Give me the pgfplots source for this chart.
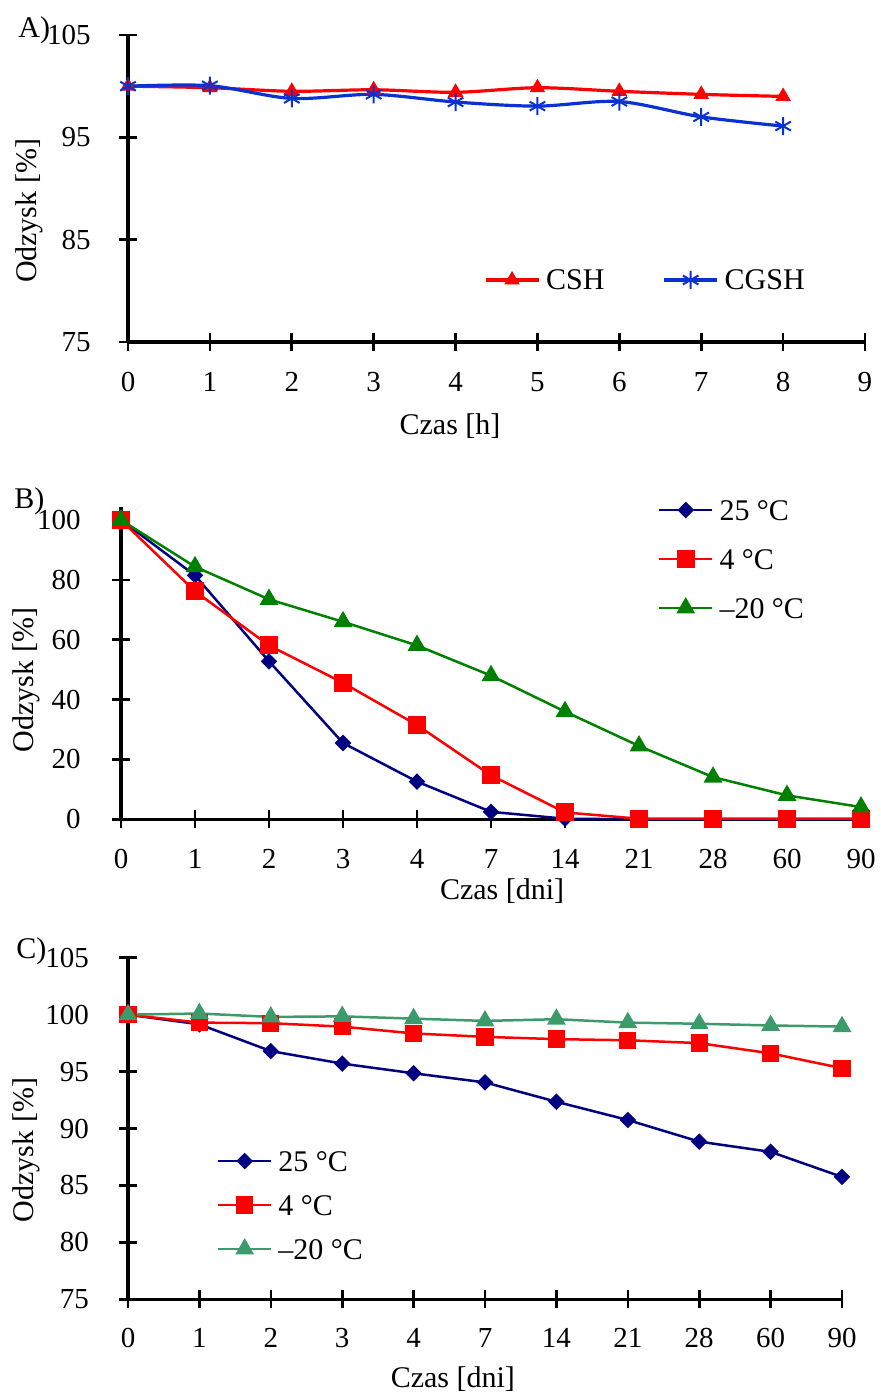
\documentclass[border=0pt]{standalone}
\usepackage{pgfplots}
\pgfplotsset{compat=1.18}
\usepackage{fontspec}
\setmainfont{Liberation Serif}
\definecolor{cred}{RGB}{255,0,0}
\definecolor{cblueA}{RGB}{10,50,210}
\definecolor{cnavy}{RGB}{0,0,128}
\definecolor{cgreenB}{RGB}{0,128,0}
\definecolor{cgreenC}{RGB}{60,155,106}

\pgfplotsset{
  base/.style={
    scale only axis,
    axis x line=bottom, axis y line=left,
    axis line style={-, line width=1.8pt, black},
    tick align=center,
    major tick length=9pt,
    major tick style={line width=1.3pt, black},
    /pgf/number format/assume math mode=true,
    tick label style={font=\fontsize{14.5}{16}\selectfont, inner sep=0pt},
    yticklabel style={anchor=east},
    legend style={draw=none, fill=none, font=\fontsize{15}{17}\selectfont,
      inner sep=0pt, outer sep=0pt,
      nodes={inner sep=0pt, text height=10pt, text depth=0pt}},
    legend cell align=left,
    legend image code/.code={\draw[mark repeat=2,mark phase=2] plot coordinates {(0pt,0pt) (13.25pt,0pt) (26.5pt,0pt)};},
    clip=false,
  },
}

\begin{document}
\begin{tikzpicture}
\useasboundingbox (0,0) rectangle (440pt,-696.5pt);
\node[anchor=base west, font=\fontsize{15}{17}\selectfont, inner sep=0pt] at (9pt,-18.5pt) {A)};
\node[anchor=base west, font=\fontsize{15}{17}\selectfont, inner sep=0pt] at (7pt,-254pt) {B)};
\node[anchor=base west, font=\fontsize{15}{17}\selectfont, inner sep=0pt] at (8pt,-479pt) {C)};

% ---------------- Panel A
\begin{axis}[base, at={(64pt,-171pt)}, anchor=south west,
  width=368.5pt, height=153.5pt,
  xmin=0, xmax=9, ymin=75, ymax=105,
  xtick={0,1,...,9}, ytick={75,85,95,105},
  xticklabel style={anchor=base, yshift=-20pt},
  yticklabel style={xshift=-14pt},
  xlabel={Czas [h]}, ylabel={Odzysk [\%]},
  every axis x label/.style={at={(axis description cs:0.437,-0.2997)}, anchor=base, font=\fontsize{15}{17}\selectfont},
  every axis y label/.style={at={(axis description cs:-0.1235,0.427)}, rotate=90, anchor=base, font=\fontsize{15}{17}\selectfont},
  legend columns=2,
  legend style={at={(axis description cs:0.483,0.202)}, anchor=west,
    /tikz/every odd column/.append style={column sep=3pt},
    /tikz/every even column/.append style={column sep=29pt}},
]
\addplot[cred, line width=1.6pt, smooth, tension=0.5, mark=triangle*, mark size=4pt, mark options={solid, fill=cred, line width=0.5pt}]
  coordinates {(0,100) (1,99.85) (2,99.5) (3,99.65) (4,99.4) (5,99.85) (6,99.5) (7,99.2) (8,99.0)};
\addlegendentry{CSH}
\addplot[cblueA, line width=1.6pt, smooth, tension=0.5, mark=asterisk, mark size=4.5pt, mark options={solid, line width=1pt}]
  coordinates {(0,100) (1,100.05) (2,98.8) (3,99.2) (4,98.45) (5,98.05) (6,98.5) (7,97.0) (8,96.1)};
\addlegendentry{CGSH}
\end{axis}

% ---------------- Panel B
\begin{axis}[base, at={(60.5pt,-409.65pt)}, anchor=south west,
  width=370pt, height=156.15pt,
  xmin=0, xmax=10, ymin=0, ymax=104.35,
  xtick={0,1,...,10}, xticklabels={0,1,2,3,4,7,14,21,28,60,90},
  xticklabel style={anchor=base, yshift=-20pt},
  ytick={0,20,...,100},
  yticklabel style={xshift=-15.5pt},
  xlabel={Czas [dni]}, ylabel={Odzysk [\%]},
  every axis x label/.style={at={(axis description cs:0.515,-0.256)}, anchor=base, font=\fontsize{15}{17}\selectfont},
  every axis y label/.style={at={(axis description cs:-0.1176,0.446)}, rotate=90, anchor=base, font=\fontsize{15}{17}\selectfont},
  legend style={at={(axis description cs:0.7257,0.8335)}, anchor=west, row sep=14.5pt,
    /tikz/every odd column/.append style={column sep=3pt}},
]
\addplot[cnavy, line width=1.25pt, mark=square*, mark size=2.3pt, mark options={solid, fill=cnavy, rotate=45}]
  coordinates {(0,100) (1,81.5) (2,52.8) (3,25.5) (4,12.6) (5,2.5) (6,0.2) (7,0) (8,0) (9,0) (10,0)};
\addlegendentry{25 °C}
\addplot[cred, line width=1.25pt, mark=square*, mark size=3.9pt, mark options={solid, fill=cred}]
  coordinates {(0,100) (1,76.2) (2,58.1) (3,45.6) (4,31.5) (5,14.7) (6,2.3) (7,0.2) (8,0.2) (9,0.2) (10,0.2)};
\addlegendentry{4 °C}
\addplot[cgreenB, line width=1.25pt, mark=triangle*, mark size=4.2pt, mark options={solid, fill=cgreenB}]
  coordinates {(0,100) (1,84.4) (2,73.5) (3,66) (4,58.1) (5,48) (6,36) (7,24.5) (8,14.1) (9,8) (10,4.1)};
\addlegendentry{–20 °C}
\end{axis}

% ---------------- Panel C
\begin{axis}[base, at={(64pt,-649.65pt)}, anchor=south west,
  width=357pt, height=170.8pt,
  xmin=0, xmax=10, ymin=75, ymax=105,
  xtick={0,1,...,10}, xticklabels={0,1,2,3,4,7,14,21,28,60,90},
  xticklabel style={anchor=base, yshift=-19.5pt},
  ytick={75,80,...,105},
  yticklabel style={xshift=-14.8pt},
  xlabel={Czas [dni]}, ylabel={Odzysk [\%]},
  every axis x label/.style={at={(axis description cs:0.455,-0.2576)}, anchor=base, font=\fontsize{15}{17}\selectfont},
  every axis y label/.style={at={(axis description cs:-0.1317,0.437)}, rotate=90, anchor=base, font=\fontsize{15}{17}\selectfont},
  legend style={at={(axis description cs:0.1246,0.276)}, anchor=west, row sep=12pt,
    /tikz/every odd column/.append style={column sep=3pt}},
]
\addplot[cnavy, line width=1.25pt, mark=square*, mark size=2.3pt, mark options={solid, fill=cnavy, rotate=45}]
  coordinates {(0,100) (1,99.15) (2,96.8) (3,95.7) (4,94.85) (5,94.05) (6,92.35) (7,90.75) (8,88.85) (9,87.95) (10,85.75)};
\addlegendentry{25 °C}
\addplot[cred, line width=1.25pt, mark=square*, mark size=3.7pt, mark options={solid, fill=cred}]
  coordinates {(0,100) (1,99.3) (2,99.25) (3,98.95) (4,98.35) (5,98.05) (6,97.85) (7,97.75) (8,97.5) (9,96.6) (10,95.3)};
\addlegendentry{4 °C}
\addplot[cgreenC, line width=1.25pt, mark=triangle*, mark size=4.2pt, mark options={solid, fill=cgreenC}]
  coordinates {(0,100) (1,100.1) (2,99.8) (3,99.85) (4,99.65) (5,99.45) (6,99.6) (7,99.3) (8,99.2) (9,99.05) (10,98.95)};
\addlegendentry{–20 °C}
\end{axis}
\end{tikzpicture}
\end{document}
